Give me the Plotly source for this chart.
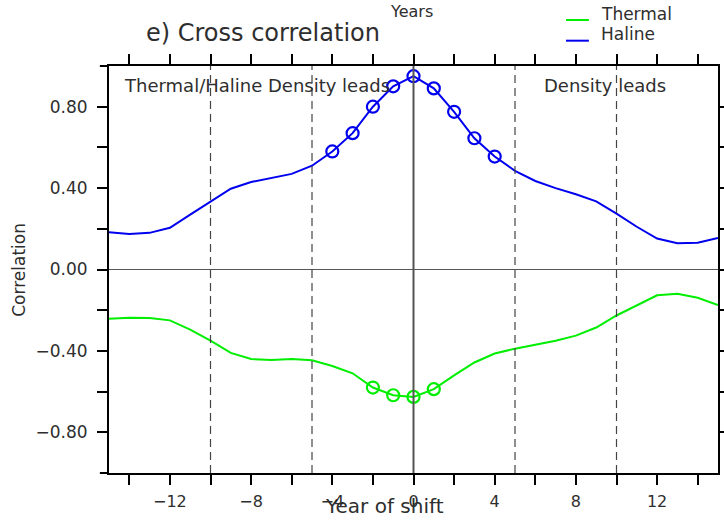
import plotly.graph_objects as go

# ---- data ----
years = list(range(-15, 16))
haline = [0.183, 0.175, 0.18, 0.205, 0.27, 0.333, 0.397, 0.43, 0.45, 0.47, 0.51,
          0.58, 0.67, 0.80, 0.90, 0.95, 0.89, 0.775, 0.645, 0.555, 0.485,
          0.435, 0.40, 0.37, 0.335, 0.275, 0.21, 0.152, 0.129, 0.132, 0.155]
thermal = [-0.242, -0.237, -0.238, -0.25, -0.295, -0.35, -0.41, -0.44, -0.445, -0.44, -0.446,
           -0.474, -0.51, -0.58, -0.618, -0.626, -0.588, -0.52, -0.457, -0.413, -0.389,
           -0.37, -0.35, -0.325, -0.285, -0.226, -0.176, -0.127, -0.119, -0.139, -0.175]
haline_marked = [-4, -3, -2, -1, 0, 1, 2, 3, 4]
thermal_marked = [-2, -1, 0, 1]

x_tickvals = list(range(-14, 15, 2))
x_ticktext = ["" if v % 4 else str(v).replace("-", "\u2212") for v in x_tickvals]
y_tickvals = [-0.8, -0.6, -0.4, -0.2, 0.0, 0.2, 0.4, 0.6, 0.8]
y_ticktext = ["\u22120.80", "", "\u22120.40", "", "0.00", "", "0.40", "", "0.80"]
vlines_dashed = [-10, -5, 5, 10]

GREEN = "#00ee00"
BLUE = "#0000ee"
FONT = "DejaVu Sans"
TXT = "#2e2e2e"

fig = go.Figure()
fig.add_trace(go.Scatter(x=years, y=haline, mode="lines", line=dict(color=BLUE, width=2),
                         name="Haline", showlegend=False))
fig.add_trace(go.Scatter(x=years, y=thermal, mode="lines", line=dict(color=GREEN, width=2),
                         name="Thermal", showlegend=False))
fig.add_trace(go.Scatter(x=haline_marked, y=[haline[years.index(v)] for v in haline_marked],
                         mode="markers", showlegend=False,
                         marker=dict(symbol="circle-open", size=12, color=BLUE, line=dict(width=2.2, color=BLUE))))
fig.add_trace(go.Scatter(x=thermal_marked, y=[thermal[years.index(v)] for v in thermal_marked],
                         mode="markers", showlegend=False,
                         marker=dict(symbol="circle-open", size=12, color=GREEN, line=dict(width=2.2, color=GREEN))))

shapes = []
for v in vlines_dashed:
    shapes.append(dict(type="line", xref="x", yref="paper", x0=v, x1=v, y0=0, y1=1,
                       line=dict(color="#444444", width=1.2, dash="8px,5px"), layer="above"))
shapes.append(dict(type="line", xref="x", yref="paper", x0=0, x1=0, y0=0, y1=1,
                   line=dict(color="#555555", width=2), layer="above"))
shapes.append(dict(type="line", xref="paper", yref="y", x0=0, x1=1, y0=0, y1=0,
                   line=dict(color="#555555", width=1), layer="above"))
# axis lines extending slightly left of frame
for yy in (0, 1):
    shapes.append(dict(type="line", xref="paper", yref="paper", x0=-0.015, x1=0, y0=yy, y1=yy,
                       line=dict(color="black", width=2)))
# legend lines
shapes.append(dict(type="line", xref="paper", yref="paper", x0=0.7504, x1=0.788, y0=1.113, y1=1.113,
                   line=dict(color=GREEN, width=2)))
shapes.append(dict(type="line", xref="paper", yref="paper", x0=0.7504, x1=0.788, y0=1.0622, y1=1.0622,
                   line=dict(color=BLUE, width=2)))

ann = [
    dict(text="Years", x=0.496, y=1.135, size=16, xanchor="center"),
    dict(text="e) Cross correlation", x=0.057, y=1.081, size=24, xanchor="left"),
    dict(text="Thermal", x=0.8046, y=1.128, size=17, xanchor="left"),
    dict(text="Haline", x=0.8046, y=1.0786, size=17, xanchor="left"),
    dict(text="Thermal/Haline Density leads", x=0.0215, y=0.951, size=18, xanchor="left"),
    dict(text="Density leads", x=0.711, y=0.951, size=18, xanchor="left"),
    dict(text="Year of shift", x=0.4524, y=-0.081, size=20, xanchor="center"),
]
annotations = []
for a in ann:
    annotations.append(dict(text=a["text"], x=a["x"], y=a["y"], xref="paper", yref="paper",
                            xanchor=a["xanchor"], yanchor="middle", showarrow=False,
                            font=dict(family=FONT, size=a["size"], color=TXT)))
annotations.append(dict(text="Correlation", x=-0.149, y=0.5, xref="paper", yref="paper",
                        xanchor="center", yanchor="middle", showarrow=False, textangle=-90,
                        font=dict(family=FONT, size=17, color=TXT)))

fig.update_layout(
    width=724, height=522,
    margin=dict(l=109, r=6, t=66, b=49, autoexpand=False),
    paper_bgcolor="white", plot_bgcolor="white",
    showlegend=False,
    shapes=shapes, annotations=annotations,
    xaxis=dict(range=[-15, 15], tickvals=x_tickvals, ticktext=x_ticktext,
               ticks="outside", ticklen=10, tickwidth=1.5, tickcolor="black",
               showline=True, linecolor="black", linewidth=2, mirror="ticks",
               showgrid=False, zeroline=False, ticklabelstandoff=3, automargin=False,
               tickfont=dict(family=FONT, size=16, color=TXT)),
    yaxis=dict(range=[-1, 1], tickvals=y_tickvals, ticktext=y_ticktext,
               ticks="outside", ticklen=10, tickwidth=1.5, tickcolor="black",
               showline=True, linecolor="black", linewidth=2, mirror="ticks",
               showgrid=False, zeroline=False, ticklabelstandoff=6, automargin=False,
               tickfont=dict(family=FONT, size=17, color=TXT)),
)

# remove the default page margin so the 724x522 figure fills the window exactly
fig.write_html("out.html", config={"displayModeBar": False},
               post_script="document.body.style.margin='0';document.body.style.overflow='hidden';")
